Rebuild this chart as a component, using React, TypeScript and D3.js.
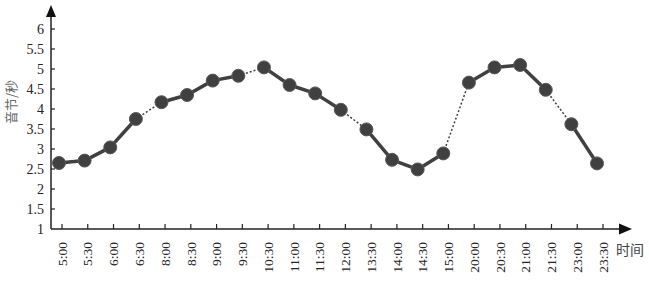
import * as d3 from 'd3'

const times = [
  '5:00', '5:30', '6:00', '6:30', '8:00', '8:30', '9:00', '9:30', '10:30', '11:00', '11:30',
  '12:00', '13:30', '14:00', '14:30', '15:00', '20:00', '20:30', '21:00', '21:30', '23:00', '23:30',
]
const syllableRate = [
  2.65, 2.71, 3.04, 3.75, 4.17, 4.35, 4.71, 4.83, 5.04, 4.6, 4.39,
  3.98, 3.49, 2.73, 2.49, 2.89, 4.66, 5.04, 5.1, 4.48, 3.62, 2.64,
]
const yTicks = [1, 1.5, 2, 2.5, 3, 3.5, 4, 4.5, 5, 5.5, 6]

const W = 649
const H = 282
const axisX = 51
const axisY = 229
const dark = '#404040'
const serif = '"Liberation Serif", "DejaVu Serif", serif'
const cjk = '"Noto Sans CJK SC", sans-serif'

// minutes since midnight, used to decide where the sequence has a gap
const toMin = (t: string) => {
  const [h, m] = t.split(':').map(Number)
  return h * 60 + m
}

export default function App() {
  const y = d3.scaleLinear().domain([1, 6]).range([axisY, 29])
  const xTick = d3.scalePoint<string>().domain(times).range([62, 603])
  const xPt = d3.scalePoint<string>().domain(times).range([59, 597])

  const pts = times.map((t, i) => ({ t, x: xPt(t)!, y: y(syllableRate[i]) }))
  const segs = pts.slice(1).map((p, i) => ({
    a: pts[i],
    b: p,
    gap: toMin(p.t) - toMin(pts[i].t) > 30,
  }))

  return (
    <div style={{ position: 'absolute', left: 0, top: 0 }}>
      <svg width={W} height={H} style={{ display: 'block', background: '#fff' }}>
        {/* axes */}
        <line x1={axisX} y1={axisY} x2={axisX} y2={14} stroke="#222" strokeWidth={1.5} />
        <polygon points={`${axisX},5 ${axisX - 5},17 ${axisX + 5},17`} fill="#111" />
        <line x1={axisX} y1={axisY} x2={622} y2={axisY} stroke="#222" strokeWidth={1.5} />
        <polygon points={`632,${axisY} 619,${axisY - 5.5} 619,${axisY + 5.5}`} fill="#111" />

        {/* y ticks */}
        {yTicks.map(v => (
          <g key={v}>
            {v > 1 && (
              <line x1={axisX} x2={axisX + 4} y1={y(v)} y2={y(v)} stroke="#222" strokeWidth={1.2} />
            )}
            <text
              x={44}
              y={y(v)}
              dy="0.35em"
              textAnchor="end"
              fontFamily={serif}
              fontSize={14}
              fill="#222"
            >
              {v}
            </text>
          </g>
        ))}

        {/* x ticks */}
        {times.map(t => (
          <g key={t}>
            <line x1={xTick(t)} x2={xTick(t)} y1={axisY} y2={axisY - 5} stroke="#222" strokeWidth={1.2} />
            <text
              transform={`translate(${xTick(t)},242) rotate(-90)`}
              dy="0.35em"
              textAnchor="end"
              fontFamily={serif}
              fontSize={13.5}
              fill="#222"
            >
              {t}
            </text>
          </g>
        ))}

        {/* axis titles */}
        <text
          transform="translate(11,102) rotate(-90)"
          dy="0.35em"
          textAnchor="middle"
          fontFamily={cjk}
          fontSize={13}
          fill="#666"
        >
          音节/秒
        </text>
        <text x={616} y={255} fontFamily={cjk} fontSize={14} fill="#444">
          时间
        </text>

        {/* line segments */}
        {segs.map((s, i) => (
          <line
            key={i}
            x1={s.a.x}
            y1={s.a.y}
            x2={s.b.x}
            y2={s.b.y}
            stroke={dark}
            strokeWidth={s.gap ? 1.5 : 3.5}
            strokeDasharray={s.gap ? '2,2' : undefined}
          />
        ))}

        {/* markers */}
        {pts.map(p => (
          <circle key={p.t} cx={p.x} cy={p.y} r={6.5} fill={dark} stroke="#5a5a5a" strokeWidth={1} />
        ))}
      </svg>
    </div>
  )
}
